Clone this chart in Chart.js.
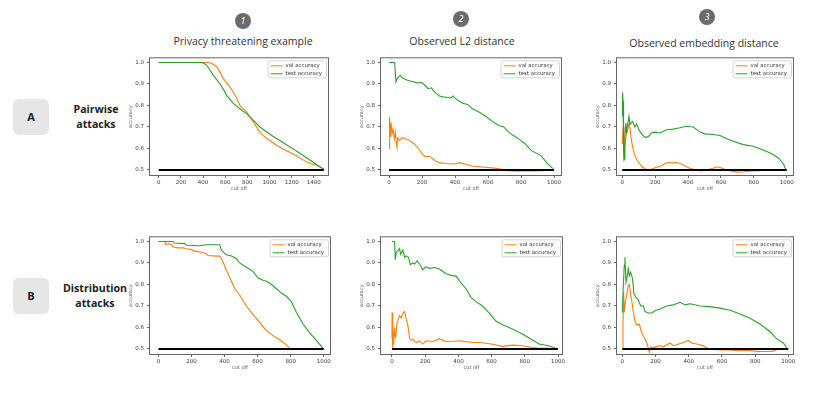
<!DOCTYPE html>
<html lang="en">
<head>
<meta charset="UTF-8">
<title>Attack accuracy vs cut off</title>
<script src="https://cdn.jsdelivr.net/npm/chart.js"></script>
<style>
  body { margin:0; background:#fff; width:831px; height:396px; position:relative; overflow:hidden; font-family:"Open Sans", sans-serif; }
  .abs { position:absolute; }
  .step { width:16px; height:16px; border-radius:50%; background:#6b6b6b; color:#fff; font-style:italic; font-size:9px; line-height:16px; text-align:center; }
  .colTitle { font-size:10.5px; color:#333; white-space:nowrap; transform:translate(-50%,-50%); }
  .badge { width:36px; height:36px; border-radius:6px; background:#e6e6e6; font-weight:700; font-size:11px; line-height:36px; text-align:center; color:#222; }
  .rowTitle { font-weight:700; font-size:10.6px; line-height:15px; text-align:center; color:#222; white-space:nowrap; transform:translate(-50%,-50%); }
  canvas { position:absolute; }
</style>
</head>
<body>
  <div class="abs step" style="left:235px; top:13px;">1</div>
  <div class="abs step" style="left:453px; top:11px;">2</div>
  <div class="abs step" style="left:699px; top:9px;">3</div>
  <div class="abs colTitle" style="left:243px; top:41px;">Privacy threatening example</div>
  <div class="abs colTitle" style="left:462px; top:41px;">Observed L2 distance</div>
  <div class="abs colTitle" style="left:704px; top:43px;">Observed embedding distance</div>

  <div class="abs badge" style="left:13px; top:99px;">A</div>
  <div class="abs rowTitle" style="left:96px; top:117px;">Pairwise<br>attacks</div>
  <div class="abs badge" style="left:13px; top:278px;">B</div>
  <div class="abs rowTitle" style="left:95px; top:296px;">Distribution<br>attacks</div>

<script>
// ---- data ----
const yTicks = [0.5, 0.6, 0.7, 0.8, 0.9, 1.0];
const xTicks1500 = [0, 200, 400, 600, 800, 1000, 1200, 1400];
const xTicks1000 = [0, 200, 400, 600, 800, 1000];

// A1 pairwise / privacy threatening example
const a1ValX = [0, 448, 480, 523, 553, 583, 613, 643, 673, 703, 733, 763, 793, 823, 853, 883, 913, 943, 973, 1003, 1063, 1123, 1183, 1243, 1303, 1364, 1424, 1490];
const a1ValY = [1.0, 1.0, 0.995, 0.98, 0.955, 0.925, 0.905, 0.885, 0.863, 0.835, 0.80, 0.785, 0.77, 0.745, 0.725, 0.70, 0.676, 0.66, 0.648, 0.637, 0.615, 0.598, 0.582, 0.566, 0.547, 0.53, 0.522, 0.505];
const a1TestX = [0, 372, 400, 432, 462, 493, 523, 553, 583, 613, 643, 673, 703, 733, 763, 793, 853, 913, 973, 1033, 1093, 1153, 1213, 1274, 1334, 1394, 1440, 1490];
const a1TestY = [1.0, 1.0, 0.998, 0.988, 0.965, 0.94, 0.92, 0.90, 0.875, 0.847, 0.828, 0.81, 0.797, 0.785, 0.773, 0.762, 0.732, 0.70, 0.678, 0.656, 0.637, 0.617, 0.598, 0.578, 0.557, 0.536, 0.52, 0.502];
const a1BaseX = [0, 1490];

// A2 pairwise / observed L2 distance
const a2ValX = [0, 2, 4, 8, 12, 18, 24, 32, 38, 44, 48, 52, 64, 78, 98, 117, 137, 157, 177, 197, 217, 247, 277, 307, 346, 396, 426, 466, 505, 565, 624, 684, 724, 784, 824, 884, 950];
const a2ValY = [0.60, 0.70, 0.745, 0.652, 0.72, 0.668, 0.69, 0.645, 0.676, 0.62, 0.606, 0.65, 0.637, 0.65, 0.645, 0.64, 0.63, 0.618, 0.60, 0.578, 0.563, 0.563, 0.544, 0.533, 0.53, 0.528, 0.534, 0.527, 0.517, 0.514, 0.51, 0.503, 0.497, 0.494, 0.497, 0.495, 0.498];
const a2TestX = [0, 34, 38, 42, 50, 58, 68, 78, 88, 108, 127, 147, 167, 197, 217, 237, 257, 272, 287, 306, 326, 346, 376, 386, 416, 446, 476, 505, 545, 585, 625, 665, 695, 724, 754, 794, 824, 862, 921, 960, 995];
const a2TestY = [1.0, 1.0, 0.95, 0.91, 0.925, 0.933, 0.94, 0.93, 0.925, 0.918, 0.914, 0.91, 0.905, 0.907, 0.894, 0.878, 0.882, 0.865, 0.855, 0.844, 0.84, 0.838, 0.835, 0.844, 0.824, 0.81, 0.805, 0.785, 0.77, 0.75, 0.726, 0.707, 0.70, 0.676, 0.66, 0.64, 0.622, 0.59, 0.567, 0.53, 0.505];
const a2BaseX = [0, 1000];

// A3 pairwise / observed embedding distance
const a3ValX = [0, 5, 10, 15, 22, 30, 40, 48, 55, 65, 75, 90, 105, 120, 140, 160, 180, 200, 220, 240, 260, 280, 300, 330, 360, 390, 420, 450, 480, 510, 540, 560, 580, 600, 630, 660, 700, 740, 780, 830, 880, 920];
const a3ValY = [0.62, 0.70, 0.54, 0.60, 0.65, 0.68, 0.71, 0.69, 0.64, 0.60, 0.57, 0.545, 0.53, 0.515, 0.505, 0.50, 0.505, 0.51, 0.515, 0.52, 0.53, 0.535, 0.533, 0.535, 0.528, 0.515, 0.505, 0.50, 0.495, 0.50, 0.505, 0.51, 0.515, 0.51, 0.50, 0.495, 0.49, 0.492, 0.495, 0.497, 0.50, 0.50];
const a3TestX = [0, 2, 5, 8, 12, 16, 22, 26, 30, 41, 46, 55, 63, 77, 87, 103, 118, 138, 158, 178, 199, 229, 270, 310, 351, 391, 432, 473, 503, 554, 594, 635, 675, 736, 797, 858, 909, 949, 980, 995];
const a3TestY = [0.75, 0.86, 0.82, 0.60, 0.55, 0.65, 0.72, 0.67, 0.70, 0.75, 0.71, 0.72, 0.726, 0.70, 0.715, 0.684, 0.668, 0.652, 0.655, 0.672, 0.676, 0.672, 0.687, 0.69, 0.696, 0.703, 0.70, 0.676, 0.668, 0.665, 0.66, 0.645, 0.634, 0.618, 0.61, 0.593, 0.575, 0.556, 0.528, 0.50];
const a3BaseX = [0, 1000];

// B1 distribution / privacy threatening example
const b1ValX = [0, 38, 44, 60, 79, 89, 119, 149, 169, 200, 220, 260, 290, 300, 351, 371, 391, 411, 431, 462, 492, 532, 573, 613, 653, 694, 734, 774, 794];
const b1ValY = [1.0, 1.0, 0.985, 0.99, 0.985, 0.974, 0.97, 0.97, 0.966, 0.962, 0.955, 0.95, 0.943, 0.935, 0.932, 0.932, 0.904, 0.865, 0.834, 0.78, 0.75, 0.70, 0.66, 0.624, 0.585, 0.562, 0.543, 0.519, 0.505];
const b1TestX = [0, 89, 95, 159, 169, 250, 290, 351, 371, 381, 411, 442, 472, 492, 532, 573, 603, 633, 653, 684, 714, 744, 774, 804, 835, 875, 915, 956, 996];
const b1TestY = [1.0, 1.0, 0.993, 0.99, 0.982, 0.98, 0.985, 0.985, 0.985, 0.958, 0.938, 0.932, 0.92, 0.90, 0.88, 0.86, 0.83, 0.82, 0.815, 0.80, 0.78, 0.76, 0.745, 0.72, 0.67, 0.616, 0.575, 0.54, 0.503];
const b1BaseX = [0, 1000];

// B2 distribution / observed L2 distance
const b2ValX = [0, 1, 3, 6, 10, 16, 22, 30, 36, 46, 56, 66, 76, 86, 96, 106, 116, 126, 146, 166, 186, 206, 246, 286, 326, 366, 406, 446, 486, 526, 566, 606, 666, 726, 786, 836, 886, 946, 995];
const b2ValY = [0.55, 0.67, 0.50, 0.61, 0.52, 0.60, 0.55, 0.62, 0.633, 0.655, 0.645, 0.667, 0.674, 0.64, 0.61, 0.55, 0.54, 0.545, 0.53, 0.538, 0.523, 0.538, 0.535, 0.547, 0.535, 0.536, 0.538, 0.534, 0.53, 0.53, 0.527, 0.522, 0.512, 0.518, 0.515, 0.508, 0.503, 0.503, 0.50];
const b2TestX = [0, 16, 20, 26, 36, 46, 52, 66, 76, 86, 100, 110, 126, 136, 152, 166, 186, 202, 226, 256, 286, 326, 366, 386, 406, 446, 476, 506, 546, 586, 626, 666, 726, 786, 836, 886, 942, 998];
const b2TestY = [1.0, 1.0, 0.915, 0.95, 0.957, 0.967, 0.94, 0.96, 0.926, 0.933, 0.926, 0.892, 0.90, 0.895, 0.91, 0.895, 0.868, 0.882, 0.875, 0.879, 0.872, 0.85, 0.84, 0.84, 0.817, 0.78, 0.74, 0.72, 0.70, 0.667, 0.63, 0.613, 0.593, 0.57, 0.546, 0.523, 0.515, 0.50];
const b2BaseX = [0, 1000];

// B3 distribution / observed embedding distance
const b3ValX = [0, 4, 8, 12, 18, 26, 36, 42, 50, 58, 66, 76, 86, 102, 116, 131, 147, 163, 171, 187, 207, 227, 247, 287, 307, 327, 367, 398, 418, 448, 488, 518, 568, 608, 649, 689, 749, 809, 869, 910, 930];
const b3ValY = [0.50, 0.61, 0.765, 0.67, 0.717, 0.75, 0.795, 0.80, 0.756, 0.717, 0.674, 0.63, 0.612, 0.615, 0.578, 0.554, 0.53, 0.485, 0.508, 0.505, 0.512, 0.515, 0.51, 0.528, 0.515, 0.52, 0.53, 0.54, 0.528, 0.523, 0.515, 0.50, 0.497, 0.496, 0.497, 0.492, 0.494, 0.489, 0.488, 0.49, 0.497];
const b3TestX = [0, 6, 12, 16, 22, 30, 36, 42, 50, 62, 70, 82, 96, 110, 127, 137, 157, 177, 197, 227, 267, 307, 347, 378, 408, 468, 528, 588, 649, 709, 769, 829, 890, 930, 970, 995];
const b3TestY = [0.67, 0.795, 0.89, 0.927, 0.81, 0.84, 0.873, 0.84, 0.857, 0.826, 0.756, 0.74, 0.73, 0.70, 0.70, 0.674, 0.667, 0.667, 0.678, 0.686, 0.70, 0.705, 0.717, 0.705, 0.71, 0.70, 0.697, 0.69, 0.68, 0.663, 0.643, 0.616, 0.58, 0.547, 0.528, 0.50];
const b3BaseX = [0, 1000];

const baseY = [0.5, 0.5];

// ---- layout / style ----
const ORANGE = '#ff7f0e', GREEN = '#2ca02c';
const Y_AXIS_W = 24, X_AXIS_H = 16, PAD_TOP = 6, PAD_RIGHT = 12;
const TICK_FONT = { family: 'DejaVu Sans', size: 5.5 };
const TITLE_FONT = { family: 'DejaVu Sans', size: 5 };

const panels = [
  { box: [149, 57, 329, 176], xr: [-88, 1537], xt: xTicks1500, val: [a1ValX, a1ValY], test: [a1TestX, a1TestY], base: a1BaseX },
  { box: [380, 57, 562, 176], xr: [-55, 1048], xt: xTicks1000, val: [a2ValX, a2ValY], test: [a2TestX, a2TestY], base: a2BaseX },
  { box: [616, 57, 794, 176], xr: [-38, 1044], xt: xTicks1000, val: [a3ValX, a3ValY], test: [a3TestX, a3TestY], base: a3BaseX },
  { box: [149, 236, 331, 355], xr: [-57, 1044], xt: xTicks1000, val: [b1ValX, b1ValY], test: [b1TestX, b1TestY], base: b1BaseX },
  { box: [380, 236, 563, 355], xr: [-72, 1030], xt: xTicks1000, val: [b2ValX, b2ValY], test: [b2TestX, b2TestY], base: b2BaseX },
  { box: [616, 236, 794, 355], xr: [-38, 1034], xt: xTicks1000, val: [b3ValX, b3ValY], test: [b3TestX, b3TestY], base: b3BaseX },
];

function pts(xs, ys) {
  return xs.map((x, i) => ({ x: x, y: ys[i] }));
}

// axes frame on all four sides, drawn over the lines like matplotlib spines
const framePlugin = {
  id: 'frame',
  afterDatasetsDraw(chart) {
    const { ctx, chartArea: a } = chart;
    ctx.save();
    ctx.strokeStyle = '#666';
    ctx.lineWidth = 1;
    ctx.strokeRect(a.left + 0.5, a.top + 0.5, a.right - a.left - 1, a.bottom - a.top - 1);
    ctx.restore();
  }
};

// small boxed legend in the upper right corner
const legendPlugin = {
  id: 'mplLegend',
  afterDraw(chart) {
    const { ctx, chartArea: a } = chart;
    const items = [['val accuracy', ORANGE], ['test accuracy', GREEN]];
    ctx.save();
    ctx.font = '5.4px "DejaVu Sans"';
    const tw = Math.max(...items.map(it => ctx.measureText(it[0]).width));
    const w = 19 + tw + 3, h = 17;
    const x = a.right - 3 - w, y = a.top + 3;
    ctx.beginPath();
    ctx.roundRect(x + 0.5, y + 0.5, w, h, 2);
    ctx.fillStyle = 'rgba(255,255,255,0.85)';
    ctx.fill();
    ctx.strokeStyle = '#d4d4d4';
    ctx.lineWidth = 1;
    ctx.stroke();
    items.forEach((it, i) => {
      const ry = y + 5 + i * 8;
      ctx.strokeStyle = it[1];
      ctx.beginPath();
      ctx.moveTo(x + 3, ry + 0.5);
      ctx.lineTo(x + 15, ry + 0.5);
      ctx.stroke();
      ctx.fillStyle = '#333';
      ctx.textBaseline = 'middle';
      ctx.fillText(it[0], x + 18, ry + 0.5);
    });
    ctx.restore();
  }
};

function makePanel(p) {
  const [l, t, r, b] = p.box;
  const w = Y_AXIS_W + (r - l) + PAD_RIGHT;
  const h = PAD_TOP + (b - t) + X_AXIS_H;
  const canvas = document.createElement('canvas');
  canvas.width = w;
  canvas.height = h;
  canvas.style.left = (l - Y_AXIS_W) + 'px';
  canvas.style.top = (t - PAD_TOP) + 'px';
  canvas.style.width = w + 'px';
  canvas.style.height = h + 'px';
  document.body.appendChild(canvas);

  const line = { pointRadius: 0, tension: 0, fill: false };

  new Chart(canvas, {
    type: 'line',
    data: {
      datasets: [
        Object.assign({ label: 'chance', data: pts(p.base, baseY), borderColor: '#000', borderWidth: 1.8 }, line),
        Object.assign({ label: 'test accuracy', data: pts(p.test[0], p.test[1]), borderColor: GREEN, borderWidth: 1.1 }, line),
        Object.assign({ label: 'val accuracy', data: pts(p.val[0], p.val[1]), borderColor: ORANGE, borderWidth: 1.1 }, line),
      ]
    },
    options: {
      responsive: false,
      animation: false,
      layout: { padding: { left: 0, right: PAD_RIGHT, top: PAD_TOP, bottom: 0 } },
      plugins: { legend: { display: false }, tooltip: { enabled: false } },
      scales: {
        x: {
          type: 'linear',
          min: p.xr[0],
          max: p.xr[1],
          afterBuildTicks: s => { s.ticks = p.xt.map(v => ({ value: v })); },
          afterFit: s => { s.height = X_AXIS_H; },
          grid: { drawOnChartArea: false, drawTicks: true, tickLength: 2, color: '#666' },
          border: { display: false },
          ticks: { font: TICK_FONT, color: '#3a3a3a', padding: 1, maxRotation: 0, autoSkip: false, callback: v => String(v) },
          title: { display: true, text: 'cut off', font: TITLE_FONT, color: '#555', padding: { top: 0, bottom: 0 } }
        },
        y: {
          min: 0.472,
          max: 1.024,
          afterBuildTicks: s => { s.ticks = yTicks.map(v => ({ value: v })); },
          afterFit: s => { s.width = Y_AXIS_W; },
          grid: { drawOnChartArea: false, drawTicks: true, tickLength: 2, color: '#666' },
          border: { display: false },
          ticks: { font: TICK_FONT, color: '#3a3a3a', padding: 3, autoSkip: false, callback: v => v.toFixed(1) },
          title: { display: true, text: 'accuracy', font: TITLE_FONT, color: '#555', padding: { top: 2.7, bottom: 0 } }
        }
      }
    },
    plugins: [framePlugin, legendPlugin]
  });
}

panels.forEach(makePanel);
</script>
</body>
</html>
